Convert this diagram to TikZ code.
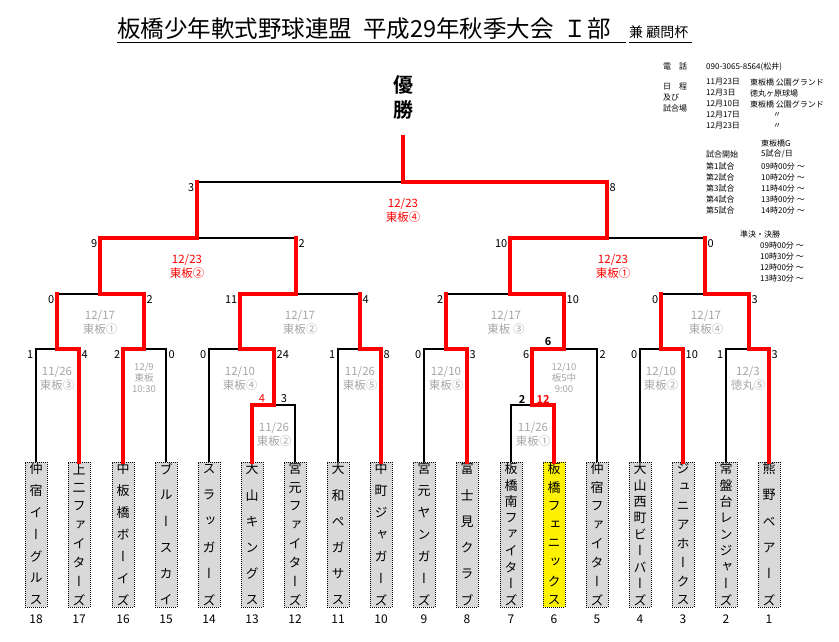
\documentclass[tikz,border=0pt]{standalone}
\usepackage{fontspec}
\setmainfont{Noto Sans CJK JP}[BoldFont={Noto Sans CJK JP Bold}]
\newfontfamily\vertjp[RawFeature={+vert}]{Noto Sans CJK JP}
\definecolor{boxgray}{HTML}{D9D9D9}
\definecolor{labelgray}{HTML}{A6A6A6}

\tikzset{
  bracket/.style={line width=2.4pt, black},
  win/.style={line width=4.5pt, red, line cap=rect},
  teambox/.style={draw, dash pattern=on 1pt off 1pt, line width=0.9pt, fill=boxgray,
    minimum width=22pt, minimum height=145pt, inner sep=0pt, outer sep=0pt},
  champbox/.style={teambox, fill=yellow},
  teamchar/.style={font=\vertjp\fontsize{13}{13}\selectfont, inner sep=0pt},
  seed/.style={font=\fontsize{12}{12}\selectfont, inner sep=0pt},
  score/.style={font=\fontsize{11}{11}\selectfont, inner sep=0pt},
  sl/.style={score, anchor=north east, xshift=-2.5pt, yshift=-1pt},
  sr/.style={score, anchor=north west, xshift=2.5pt, yshift=-1pt},
  datelbl/.style={font=\fontsize{11.5}{14}\selectfont, text=labelgray, align=center, inner sep=0pt},
  datesmall/.style={datelbl, font=\fontsize{9.5}{11}\selectfont},
  datered/.style={datelbl, text=red},
  info/.style={font=\fontsize{8}{8}\selectfont, anchor=west, inner sep=0pt},
}

% stacked team name, one character per line
\newcount\nchars
\newcount\kchar
\makeatletter
\newcommand\stackname[3]{%
  \global\nchars=0
  \@tfor\nm@c:=#3\do{\global\advance\nchars by 1}%
  \global\kchar=0
  \@tfor\nm@c:=#3\do{%
    \global\advance\kchar by 1
    \pgfmathsetmacro\nm@y{469+(\the\kchar-1)*131/(\the\nchars-1)}%
    \node[teamchar] (#1-\the\kchar) at (#2,\nm@y) {\nm@c};}%
}
\makeatother
\newcommand\team[4][teambox]{%
  \node[#1] (t#2) at (#3,534.5) {};
  \stackname{t#2}{#3}{#4}%
  \node[seed] (n#2) at (#3,619) {#2};
}

\begin{document}
\begin{tikzpicture}[x=1pt, y=-1pt]
  \useasboundingbox (0,0) rectangle (839,642);

  % Title
  \node[anchor=base west, inner sep=0pt, font=\fontsize{23.5}{23.5}\selectfont] (title) at (117,38) {板橋少年軟式野球連盟\hspace{11pt}平成29年秋季大会\hspace{10pt}Ｉ部};
  \node[anchor=base west, inner sep=0pt, font=\fontsize{14}{14}\selectfont] (cup) at (629,38) {兼 顧問杯};
  \draw[line width=1.6pt] (117,42.5) -- (626,42.5);
  \draw[line width=1.2pt] (629,42.5) -- (692,42.5);

  % Schedule block
  \node[info] (tel) at (663,67) {電　話};
  \node[info] (telno) at (706,67) {090-3065-8564(松井)};
  \node[info] (sch1) at (663,87) {日　程};
  \node[info] (sch2) at (663,98) {及び};
  \node[info] (sch3) at (663,108) {試合場};
  \node[info] (d1) at (706,82) {11月23日};
  \node[info] (d2) at (706,93) {12月3日};
  \node[info] (d3) at (706,104) {12月10日};
  \node[info] (d4) at (706,115) {12月17日};
  \node[info] (d5) at (706,126) {12月23日};
  \node[info] (p1) at (750,82) {東板橋 公園グランド};
  \node[info] (p2) at (750,93) {徳丸ヶ原球場};
  \node[info] (p3) at (750,104) {東板橋 公園グランド};
  \node[info, anchor=center] (p4) at (777,115) {〃};
  \node[info, anchor=center] (p5) at (777,126) {〃};
  \node[info] (ground) at (761,143) {東板橋G};
  \node[info] (start) at (706,154) {試合開始};
  \node[info] (perday) at (761,154) {5試合/日};
  \node[info] (g1) at (706,166) {第1試合};
  \node[info] (g2) at (706,177) {第2試合};
  \node[info] (g3) at (706,188) {第3試合};
  \node[info] (g4) at (706,199) {第4試合};
  \node[info] (g5) at (706,210) {第5試合};
  \node[info] (h1) at (761,166) {09時00分 ～};
  \node[info] (h2) at (761,177) {10時20分 ～};
  \node[info] (h3) at (761,188) {11時40分 ～};
  \node[info] (h4) at (761,199) {13時00分 ～};
  \node[info] (h5) at (761,210) {14時20分 ～};
  \node[info] (semi) at (740,234) {準決・決勝};
  \node[info] (f1) at (760,245) {09時00分 ～};
  \node[info] (f2) at (760,256) {10時30分 ～};
  \node[info] (f3) at (760,267) {12時00分 ～};
  \node[info] (f4) at (760,278) {13時30分 ～};

  % Champion
  \node[font=\bfseries\fontsize{20}{25}\selectfont, align=center, inner sep=0pt] (win) at (403,97) {優\\勝};

  % Teams
  \team{18}{36}{仲宿イーグルス}
  \team{17}{79}{上二ファイターズ}
  \team{16}{123}{中板橋ボーイズ}
  \team{15}{166}{ブルースカイ}
  \team{14}{209}{スラッガーズ}
  \team{13}{252}{大山キングス}
  \team{12}{295}{宮元ファイターズ}
  \team{11}{338}{大和ペガサス}
  \team{10}{381}{中町ジャガーズ}
  \team{9}{424}{宮元ヤンガーズ}
  \team{8}{467}{富士見クラブ}
  \team{7}{511}{板橋南ファイターズ}
  \team[champbox]{6}{554}{板橋フェニックス}
  \team{5}{597}{仲宿ファイターズ}
  \team{4}{640}{大山西町ビーバーズ}
  \team{3}{683}{ジュニアホークス}
  \team{2}{726}{常盤台レンジャーズ}
  \team{1}{769}{熊野ベアーズ}

  % Match points
  \coordinate (m13) at (274,405);
  \coordinate (m6) at (532,405);
  \coordinate (mA) at (57,349);
  \coordinate (mB) at (144,349);
  \coordinate (mC) at (240,349);
  \coordinate (mD) at (360,349);
  \coordinate (mH) at (446,349);
  \coordinate (mI) at (564,349);
  \coordinate (mJ) at (661,349);
  \coordinate (mK) at (749,349);
  \coordinate (mE) at (100,294);
  \coordinate (mF) at (296,294);
  \coordinate (mL) at (510,294);
  \coordinate (mM) at (705,294);
  \coordinate (mG) at (197,238);
  \coordinate (mN) at (607,238);
  \coordinate (mFin) at (403,182);
  \coordinate (top) at (403,137);

  % Bracket lines
  \draw[bracket] (t13.north) |- (m13) -| (t12.north);
  \draw[bracket] (t7.north) |- (m6) -| (t6.north);
  \draw[bracket] (t18.north) |- (mA) -| (t17.north);
  \draw[bracket] (t16.north) |- (mB) -| (t15.north);
  \draw[bracket] (t14.north) |- (mC) -| (m13);
  \draw[bracket] (t11.north) |- (mD) -| (t10.north);
  \draw[bracket] (t9.north) |- (mH) -| (t8.north);
  \draw[bracket] (m6) |- (mI) -| (t5.north);
  \draw[bracket] (t4.north) |- (mJ) -| (t3.north);
  \draw[bracket] (t2.north) |- (mK) -| (t1.north);
  \draw[bracket] (mA) |- (mE) -| (mB);
  \draw[bracket] (mC) |- (mF) -| (mD);
  \draw[bracket] (mH) |- (mL) -| (mI);
  \draw[bracket] (mJ) |- (mM) -| (mK);
  \draw[bracket] (mE) |- (mG) -| (mF);
  \draw[bracket] (mL) |- (mN) -| (mM);
  \draw[bracket] (mG) |- (mFin) -| (mN);

  % Winners
  \draw[win] (t13.north) |- (m13);
  \draw[win] (t6.north) |- (m6);
  \draw[win] (t17.north) |- (mA);
  \draw[win] (t16.north) |- (mB);
  \draw[win] (m13) |- (mC);
  \draw[win] (t10.north) |- (mD);
  \draw[win] (t8.north) |- (mH);
  \draw[win] (m6) |- (mI);
  \draw[win] (t3.north) |- (mJ);
  \draw[win] (t1.north) |- (mK);
  \draw[win] (mB) |- (mE);
  \draw[win] (mA) -- (mA |- mE);
  \draw[win] (mC) |- (mF);
  \draw[win] (mD) -- (mD |- mF);
  \draw[win] (mI) |- (mL);
  \draw[win] (mH) -- (mH |- mL);
  \draw[win] (mK) |- (mM);
  \draw[win] (mJ) -- (mJ |- mM);
  \draw[win] (mE) |- (mG);
  \draw[win] (mF) -- (mF |- mG);
  \draw[win] (mL) |- (mN);
  \draw[win] (mM) -- (mM |- mN);
  \draw[win] (mN) |- (mFin);
  \draw[win] (mG) -- (mG |- mFin);
  \draw[win] (mFin) -- (top);

  % Scores
  \node[score, text=red] (s13a) at (262,399) {4};
  \node[score] (s13b) at (284,399) {3};
  \node[score, font=\bfseries\fontsize{11}{11}\selectfont] (s6a) at (522,399) {2};
  \node[score, text=red, font=\bfseries\fontsize{11}{11}\selectfont] (s6b) at (543,399) {12};
  \node[sl] (sA1) at (t18.north |- mA) {1};
  \node[sr] (sA2) at (t17.north |- mA) {4};
  \node[sl] (sB1) at (t16.north |- mB) {2};
  \node[sr] (sB2) at (t15.north |- mB) {0};
  \node[sl] (sC1) at (t14.north |- mC) {0};
  \node[sr] (sC2) at (m13 |- mC) {24};
  \node[sl] (sD1) at (t11.north |- mD) {1};
  \node[sr] (sD2) at (t10.north |- mD) {8};
  \node[sl] (sH1) at (t9.north |- mH) {0};
  \node[sr] (sH2) at (t8.north |- mH) {3};
  \node[sl] (sI1) at (m6 |- mI) {6};
  \node[sr] (sI2) at (t5.north |- mI) {2};
  \node[score, font=\bfseries\fontsize{11}{11}\selectfont] (sI0) at (548,342) {6};
  \node[sl] (sJ1) at (t4.north |- mJ) {0};
  \node[sr] (sJ2) at (t3.north |- mJ) {10};
  \node[sl] (sK1) at (t2.north |- mK) {1};
  \node[sr] (sK2) at (t1.north |- mK) {3};
  \node[sl] (sE1) at (mA |- mE) {0};
  \node[sr] (sE2) at (mB |- mE) {2};
  \node[sl] (sF1) at (mC |- mF) {11};
  \node[sr] (sF2) at (mD |- mF) {4};
  \node[sl] (sL1) at (mH |- mL) {2};
  \node[sr] (sL2) at (mI |- mL) {10};
  \node[sl] (sM1) at (mJ |- mM) {0};
  \node[sr] (sM2) at (mK |- mM) {3};
  \node[sl] (sG1) at (mE |- mG) {9};
  \node[sr] (sG2) at (mF |- mG) {2};
  \node[sl] (sN1) at (mL |- mN) {10};
  \node[sr] (sN2) at (mM |- mN) {0};
  \node[sl] (sX1) at (mG |- mFin) {3};
  \node[sr] (sX2) at (mN |- mFin) {8};

  % Dates and grounds
  \node[datelbl] (lA) at (57,378) {11/26\\東板③};
  \node[datesmall] (lB) at (144,378) {12/9\\東板\\10:30};
  \node[datelbl] (lC) at (240,378) {12/10\\東板④};
  \node[datelbl] (l13) at (274,434) {11/26\\東板②};
  \node[datelbl] (lD) at (360,378) {11/26\\東板⑤};
  \node[datelbl] (lH) at (446,378) {12/10\\東板⑤};
  \node[datesmall] (lI) at (564,378) {12/10\\板5中\\9:00};
  \node[datelbl] (l6) at (533,434) {11/26\\東板①};
  \node[datelbl] (lJ) at (661,378) {12/10\\東板②};
  \node[datelbl] (lK) at (748,378) {12/3\\徳丸⑤};
  \node[datelbl] (lE) at (100,322) {12/17\\東板①};
  \node[datelbl] (lF) at (300,322) {12/17\\東板②};
  \node[datelbl] (lL) at (506,322) {12/17\\東板 ③};
  \node[datelbl] (lM) at (706,322) {12/17\\東板④};
  \node[datered] (lG) at (187,266) {12/23\\東板②};
  \node[datered] (lN) at (613,266) {12/23\\東板①};
  \node[datered] (lX) at (403,210) {12/23\\東板④};
\end{tikzpicture}
\end{document}
